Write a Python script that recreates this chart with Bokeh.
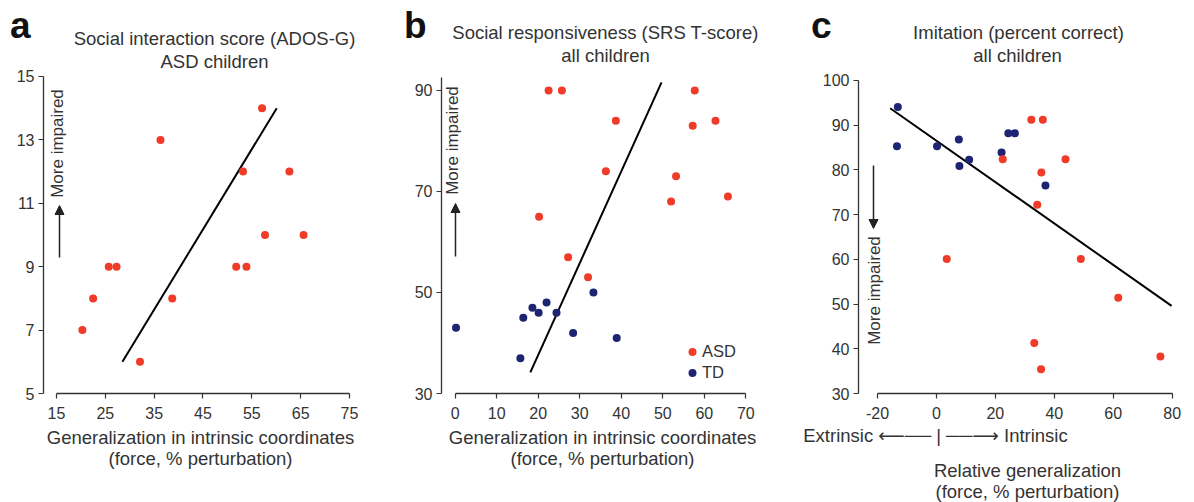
import json
from bokeh.plotting import figure
from bokeh.models import (Label, Arrow, NormalHead, FixedTicker, Legend, LegendItem, Range1d,
                          LinearAxis, CustomJSTickFormatter)
from bokeh.layouts import row
from bokeh.embed import file_html
from bokeh.resources import INLINE

# ---------------- data ----------------
a_x = [57.1, 36.3, 53.2, 62.7, 57.7, 65.6, 25.7, 27.3, 22.5, 20.3, 32.1, 38.7, 51.8, 53.9]
a_y = [14, 13, 12, 12, 10, 10, 9, 9, 8, 7, 6, 8, 9, 9]
a_fit_x = [28.5, 60.1]
a_fit_y = [6.0, 14.0]
a_xticks = [15, 25, 35, 45, 55, 65, 75]
a_yticks = [5, 7, 9, 11, 13, 15]

b_asd_x = [22.5, 25.7, 38.7, 57.7, 57.2, 62.7, 36.3, 53.2, 52.0, 65.7, 20.2, 27.2, 32.0]
b_asd_y = [90, 90, 84, 90, 83, 84, 74, 73, 68, 69, 65, 57, 53]
b_td_x = [33.3, 22.0, 18.6, 20.1, 24.4, 16.4, 0.2, 28.4, 38.9, 15.7]
b_td_y = [50, 48, 47, 46, 46, 45, 43, 42, 41, 37]
b_fit_x = [18.1, 49.7]
b_fit_y = [34.2, 91.6]
b_xticks = [0, 10, 20, 30, 40, 50, 60, 70]
b_yticks = [30, 50, 70, 90]

c_td_x = [-13.1, -13.4, 0.2, 7.6, 7.8, 11.1, 22.1, 24.4, 26.6, 37.0]
c_td_y = [94.1, 85.3, 85.3, 86.8, 80.9, 82.3, 83.9, 88.2, 88.2, 76.5]
c_asd_x = [32.2, 36.1, 22.5, 43.8, 35.6, 34.2, 3.5, 49.0, 61.7, 33.2, 35.5, 76.0]
c_asd_y = [91.2, 91.2, 82.4, 82.4, 79.4, 72.2, 60.1, 60.1, 51.4, 41.3, 35.4, 38.3]
c_fit_x = [-15.7, 79.8]
c_fit_y = [93.8, 49.6]
c_xticks = [-20, 0, 20, 40, 60, 80]
c_yticks = [30, 40, 50, 60, 70, 80, 90, 100]

RED = "#ef3b27"
NAVY = "#1d2472"
TXT = "#333333"
FONT = "Liberation Sans"
LBL = "18.5px"
LINE_H = 1.03

# ---------------- layout (page pixels, page margin is 0) ----------------
FH = 393  # frame from canvas top down to the x axis
H = 502
PA = dict(left=0, W=400, fl=43, fr=357, x0=12.338, x1=76.64, y0=5, y1=17.397)
PB = dict(left=400, W=390, fl=439, fr=761, x0=-3.3, x1=74.26, y0=30, y1=107.82)
PC = dict(left=790, W=404, fl=856, fr=1194, x0=-26.447, x1=88.25, y0=30, y1=117.89)


def fw(P):
    return P["fr"] - P["fl"]


def dx(P, px):
    return P["x0"] + (px - P["fl"]) / fw(P) * (P["x1"] - P["x0"])


def dy(P, py):
    return P["y1"] - py / FH * (P["y1"] - P["y0"])


def style_axis(ax, standoff):
    ax.axis_line_color = "#333333"
    ax.axis_line_width = 1.3
    ax.major_tick_line_color = "#333333"
    ax.major_tick_line_width = 1.2
    ax.major_tick_out = 5
    ax.major_tick_in = 0
    ax.minor_tick_out = 0
    ax.minor_tick_in = 0
    ax.major_label_text_font = FONT
    ax.major_label_text_font_size = "16px"
    ax.major_label_text_color = TXT
    ax.major_label_standoff = standoff
    ax.axis_label_text_font = FONT
    ax.axis_label_text_font_size = LBL
    ax.axis_label_text_font_style = "normal"
    ax.axis_label_text_color = TXT
    ax.axis_label_text_line_height = LINE_H


def text_axis(text, px_center, P, standoff):
    # an axis with no line and no tick marks, whose only tick label is the given text
    ax = LinearAxis(ticker=FixedTicker(ticks=[px_center]),
                    formatter=CustomJSTickFormatter(code="return %s;" % json.dumps(text)))
    ax.axis_line_color = None
    ax.major_tick_line_color = None
    ax.minor_tick_line_color = None
    ax.major_tick_out = 0
    ax.major_tick_in = 0
    ax.minor_tick_out = 0
    ax.minor_tick_in = 0
    ax.major_label_standoff = standoff
    return ax


def make_fig(P, xticks, yticks, xbounds, ybounds, letter, letter_standoff):
    bl = P["fl"] - P["left"]
    br = P["left"] + P["W"] - P["fr"]
    p = figure(x_range=Range1d(P["x0"], P["x1"]), y_range=Range1d(P["y0"], P["y1"]),
               frame_width=fw(P), frame_height=FH,
               min_border_left=bl, min_border_right=br, min_border_top=0, min_border_bottom=H - FH,
               output_backend="svg", toolbar_location=None)
    p.outline_line_color = None
    p.xgrid.visible = False
    p.ygrid.visible = False
    p.background_fill_color = "white"
    p.border_fill_color = "white"
    p.xaxis.ticker = FixedTicker(ticks=xticks)
    p.yaxis.ticker = FixedTicker(ticks=yticks)
    p.xaxis.bounds = xbounds
    p.yaxis.bounds = ybounds
    style_axis(p.xaxis[0], 8)
    style_axis(p.yaxis[0], 4)
    # panel letter: a one-tick axis on the left whose only label is the letter
    lax = text_axis(letter, dy(P, 25), P, letter_standoff)
    lax.major_label_text_font = FONT
    lax.major_label_text_font_size = "37px"
    lax.major_label_text_font_style = "bold"
    lax.major_label_text_color = "#111111"
    p.add_layout(lax, "left")
    return p


def lab(p, P, px, py, text, size=LBL, angle=0):
    p.add_layout(Label(x=dx(P, px), y=dy(P, py), text=text, text_font=FONT,
                       text_font_size=size, text_color=TXT, text_align="center",
                       text_baseline="alphabetic", angle=angle))


def arr(p, P, x1, y1, x2, y2):
    p.add_layout(Arrow(x_start=dx(P, x1), y_start=dy(P, y1), x_end=dx(P, x2), y_end=dy(P, y2),
                       line_color="#222222", line_width=1.5,
                       end=NormalHead(size=9, fill_color="#222222", line_color="#222222")))


# ---------------- panel a ----------------
pa = make_fig(PA, a_xticks, a_yticks, (15, 75), (5, 15), "a", -17)
pa.line(a_fit_x, a_fit_y, line_color="black", line_width=2)
pa.scatter(a_x, a_y, size=8, fill_color=RED, line_color=None)
lab(pa, PA, 214, 38, "Social interaction score (ADOS-G)")
lab(pa, PA, 214, 61, "ASD children")
lab(pa, PA, 57, 143, "More impaired", size="17px", angle=1.5708)
arr(pa, PA, 59, 257, 59, 205)
pa.xaxis.axis_label = "Generalization in intrinsic coordinates\n(force, % perturbation)"

# ---------------- panel b ----------------
pb = make_fig(PB, b_xticks, b_yticks, (0, 70), (30, 92.6), "b", -15)
pb.line(b_fit_x, b_fit_y, line_color="black", line_width=2)
r_asd = pb.scatter(b_asd_x, b_asd_y, size=8, fill_color=RED, line_color=None)
r_td = pb.scatter(b_td_x, b_td_y, size=8, fill_color=NAVY, line_color=None)
legend = Legend(items=[LegendItem(label="ASD", renderers=[r_asd]),
                       LegendItem(label="TD", renderers=[r_td])],
                location=(241, 10), border_line_color=None, background_fill_alpha=0,
                padding=0, margin=0, spacing=0, glyph_width=20, glyph_height=21,
                label_height=21, label_standoff=0, label_text_font=FONT,
                label_text_font_size="16.5px", label_text_color=TXT)
pb.add_layout(legend)
lab(pb, PB, 603, 32, "Social responsiveness (SRS T-score)")
lab(pb, PB, 603, 55, "all children")
lab(pb, PB, 450, 140, "More impaired", size="17px", angle=1.5708)
arr(pb, PB, 453, 256, 453, 203)
pb.xaxis.axis_label = "Generalization in intrinsic coordinates\n(force, % perturbation)"

# ---------------- panel c ----------------
pc = make_fig(PC, c_xticks, c_yticks, (-20, 80), (30, 100), "c", -12)
pc.xaxis.major_label_overrides = {-20: "-20"}
pc.line(c_fit_x, c_fit_y, line_color="black", line_width=2)
pc.scatter(c_td_x, c_td_y, size=8, fill_color=NAVY, line_color=None)
pc.scatter(c_asd_x, c_asd_y, size=8, fill_color=RED, line_color=None)
lab(pc, PC, 1016, 32, "Imitation (percent correct)")
lab(pc, PC, 1015, 55, "all children")
lab(pc, PC, 872, 290, "More impaired", size="17px", angle=1.5708)
arr(pc, PC, 871, 165, 871, 228)
NB = "\u00a0"
line1 = "Extrinsic" + NB + "\u27f5\u2500\u2500" + NB + "|" + NB + "\u2500\u2500\u27f6" + NB + "Intrinsic"
xl2 = text_axis(line1, dx(PC, 933), PC, 3)
xl2.major_label_text_font = "Liberation Sans, DejaVu Sans"
xl2.major_label_text_font_size = LBL
xl2.major_label_text_color = TXT
xl2.axis_label = "Relative generalization\n(force, % perturbation)"
xl2.axis_label_text_font = FONT
xl2.axis_label_text_font_size = LBL
xl2.axis_label_text_font_style = "normal"
xl2.axis_label_text_color = TXT
xl2.axis_label_text_line_height = LINE_H
xl2.axis_label_standoff = 11
pc.add_layout(xl2, "below")

layout = row(pa, pb, pc)
open("out.html", "w").write(file_html(layout, INLINE))
